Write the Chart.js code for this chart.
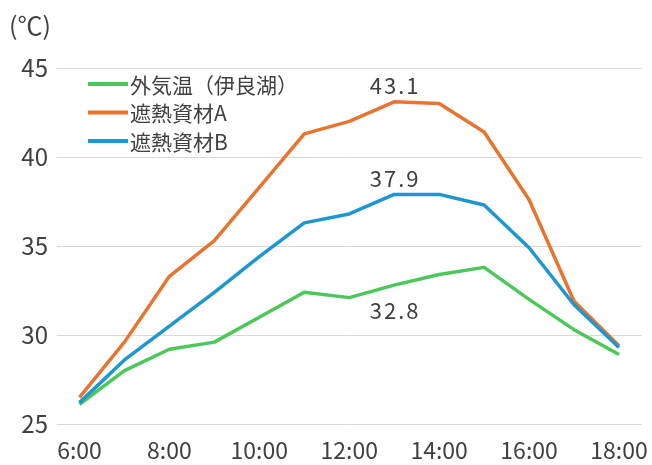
<!DOCTYPE html>
<html lang="ja">
<head>
<meta charset="utf-8">
<script src="https://cdn.jsdelivr.net/npm/chart.js@4.4.1/dist/chart.umd.min.js"></script>
<style>
  html, body { margin: 0; padding: 0; background: #fff; }
  #wrap { position: relative; width: 652px; height: 465px; }
  #unit { position: absolute; left: 9px; top: 6px; font: 25px "Noto Sans CJK JP", sans-serif; color: #404040; }
</style>
</head>
<body>
<div id="wrap">
  <canvas id="tempChart" width="652" height="465"></canvas>
  <div id="unit">(℃)</div>
</div>
<script>
// ==================================================
// DATA
// ==================================================
const hours = ["6:00", "7:00", "8:00", "9:00", "10:00", "11:00", "12:00",
               "13:00", "14:00", "15:00", "16:00", "17:00", "18:00"];
const seriesNames = ["外気温（伊良湖）", "遮熱資材A", "遮熱資材B"];
const outdoorTemp = [26.1, 28.0, 29.2, 29.6, 31.0, 32.4, 32.1, 32.8, 33.4, 33.8, 32.0, 30.3, 28.9];
const materialA = [26.5, 29.6, 33.3, 35.3, 38.3, 41.3, 42.0, 43.1, 43.0, 41.4, 37.6, 31.9, 29.4];
const materialB = [26.2, 28.6, 30.5, 32.4, 34.4, 36.3, 36.8, 37.9, 37.9, 37.3, 34.9, 31.7, 29.3];
const yTicks = [25, 30, 35, 40, 45];

// labelled points: [dataset index, point index, above?]
const pointLabels = [[1, 7, true], [2, 7, true], [0, 7, false]];

const lineColors = ["#4cc85a", "#e9742f", "#1e96cf"];
const textColor = "#404040";
const jpFont = '"Noto Sans CJK JP", sans-serif';

// ==================================================
// PLUGINS
// ==================================================
const legendPlugin = {
    id: "sideLegend",
    afterDraw(chart) {
        const ctx = chart.ctx;
        ctx.save();
        ctx.font = "21px " + jpFont;
        ctx.textBaseline = "middle";
        chart.data.datasets.forEach((ds, i) => {
            const y = 84 + i * 28.5;
            ctx.strokeStyle = ds.borderColor;
            ctx.lineWidth = 4;
            ctx.beginPath();
            ctx.moveTo(88, y);
            ctx.lineTo(128, y);
            ctx.stroke();
            ctx.fillStyle = textColor;
            ctx.fillText(ds.label, 130, y + 1);
        });
        ctx.restore();
    }
};

const valueLabelPlugin = {
    id: "valueLabels",
    afterDatasetsDraw(chart) {
        const ctx = chart.ctx;
        ctx.save();
        ctx.font = "22px " + jpFont;
        ctx.letterSpacing = "2px";
        ctx.fillStyle = textColor;
        ctx.textAlign = "center";
        ctx.textBaseline = "middle";
        pointLabels.forEach(([di, pi, above]) => {
            const pt = chart.getDatasetMeta(di).data[pi];
            const val = chart.data.datasets[di].data[pi].toFixed(1);
            ctx.fillText(val, pt.x + 1, pt.y + (above ? -16 : 25));
        });
        ctx.restore();
    }
};

// ==================================================
// CHART
// ==================================================
const ctx = document.getElementById("tempChart").getContext("2d");
new Chart(ctx, {
    type: "line",
    data: {
        labels: hours,
        datasets: [
            { label: seriesNames[0], data: outdoorTemp, borderColor: lineColors[0], order: 2 },
            { label: seriesNames[1], data: materialA, borderColor: lineColors[1], order: 1 },
            { label: seriesNames[2], data: materialB, borderColor: lineColors[2], order: 0 }
        ]
    },
    options: {
        responsive: false,
        animation: false,
        devicePixelRatio: 1,
        layout: { padding: { top: 68, right: 7, left: 0, bottom: 0 } },
        elements: {
            line: { borderWidth: 3.5, tension: 0, borderJoinStyle: "round" },
            point: { radius: 0, hoverRadius: 0 }
        },
        plugins: {
            legend: { display: false },
            tooltip: { enabled: false }
        },
        scales: {
            x: {
                offset: true,
                grid: { display: false },
                border: { display: false },
                afterFit(scale) { scale.height = 41; },
                ticks: {
                    autoSkip: false,
                    maxRotation: 0,
                    padding: 4,
                    color: textColor,
                    font: { family: jpFont, size: 23 },
                    callback(val, i) { return i % 2 === 0 ? hours[i] : ""; }
                }
            },
            y: {
                min: yTicks[0],
                max: yTicks[yTicks.length - 1],
                afterBuildTicks(scale) { scale.ticks = yTicks.map(v => ({ value: v })); },
                afterFit(scale) { scale.width = 57; },
                grid: { color: "#d9d9d9", lineWidth: 1, drawTicks: false },
                border: { display: false },
                ticks: {
                    padding: 9,
                    color: textColor,
                    font: { family: jpFont, size: 24 }
                }
            }
        }
    },
    plugins: [legendPlugin, valueLabelPlugin]
});
</script>
</body>
</html>
